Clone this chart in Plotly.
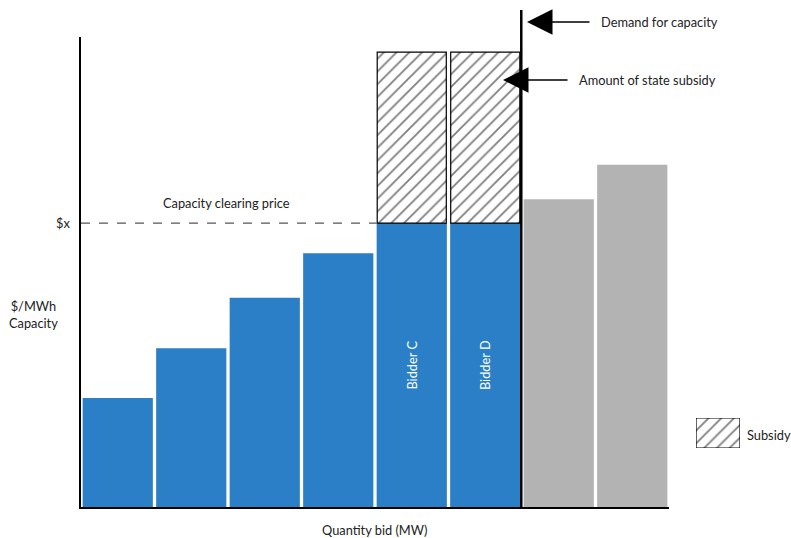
import plotly.graph_objects as go

# ---- data ----
bar_index = [0, 1, 2, 3, 4, 5]
blue_values = [23.2, 33.8, 44.5, 54.0, 60.4, 60.4]
blue_labels = ["", "", "", "", "Bidder C", "Bidder D"]
grey_index = [6, 7]
grey_values = [65.5, 72.8]
subsidy_index = [4, 5]
subsidy_base = [60.4, 60.4]
subsidy_values = [36.4, 36.4]
clearing_price = 60.4

W, H = 791, 538
FONT = "Lato"
FS = 12.8

def px(x):
    return x / W

def py(y):
    return (H - y) / H

fig = go.Figure()

fig.add_trace(go.Bar(
    x=bar_index, y=blue_values, width=0.955,
    marker=dict(color="#2a7fc6", line=dict(width=0)),
    text=blue_labels, textposition="inside", insidetextanchor="middle",
    textangle=-90, textfont=dict(color="white", size=FS, family=FONT),
    constraintext="none", showlegend=False, hoverinfo="skip"))

fig.add_trace(go.Bar(
    x=grey_index, y=grey_values, width=0.955,
    marker=dict(color="#b3b3b3", line=dict(width=0)),
    showlegend=False, hoverinfo="skip"))

hatch = dict(shape="/", fgcolor="black", bgcolor="white", size=9, solidity=0.2)

fig.add_trace(go.Bar(
    x=subsidy_index, y=subsidy_values, base=subsidy_base, width=0.94,
    marker=dict(color="white", line=dict(color="black", width=1.2),
                pattern=hatch),
    showlegend=False, hoverinfo="skip"))

# legend swatch on its own small axes
fig.add_trace(go.Bar(
    x=[0], y=[1], width=1, xaxis="x2", yaxis="y2",
    marker=dict(color="white", line=dict(color="black", width=1.2),
                pattern=hatch),
    showlegend=False, hoverinfo="skip"))

fig.update_layout(
    width=W, height=H,
    margin=dict(l=0, r=0, t=0, b=0),
    paper_bgcolor="white", plot_bgcolor="white",
    barmode="overlay",
    font=dict(family=FONT, size=FS, color="#222"),
    xaxis=dict(domain=[px(81), px(669)], range=[-0.5, 7.5],
               showline=True, linecolor="black", linewidth=2,
               showticklabels=False, ticks="", showgrid=False, zeroline=False),
    yaxis=dict(domain=[py(507), py(37)], range=[0, 100],
               showline=True, linecolor="black", linewidth=2,
               showticklabels=False, ticks="", showgrid=False, zeroline=False),
    xaxis2=dict(domain=[px(696), px(740)], range=[-0.5, 0.5], anchor="y2",
                visible=False),
    yaxis2=dict(domain=[py(448), py(418)], range=[0, 1], anchor="x2",
                visible=False),
)

# clearing price dashed line
fig.add_shape(type="line", xref="x", yref="y", x0=-0.5, x1=3.52,
              y0=clearing_price, y1=clearing_price,
              line=dict(color="#555", width=1.3, dash="dash"))

# demand line
fig.add_shape(type="line", xref="x", yref="paper", x0=5.49, x1=5.49,
              y0=py(508), y1=py(10), line=dict(color="black", width=2.5))

ann = []
# arrows
ann.append(dict(x=px(527), y=py(22), xref="paper", yref="paper", text="",
                showarrow=True, ax=64, ay=0, arrowhead=2, arrowsize=3.4,
                arrowwidth=1.5, arrowcolor="black"))
ann.append(dict(x=px(503), y=py(80), xref="paper", yref="paper", text="",
                showarrow=True, ax=66, ay=0, arrowhead=2, arrowsize=3.4,
                arrowwidth=1.5, arrowcolor="black"))
texts = [
    ("Demand for capacity", 599, 22, "left"),
    ("Amount of state subsidy", 577, 80, "left"),
    ("Capacity clearing price", 226, 203, "center"),
    ("$x", 72, 223, "right"),
    ("Quantity bid (MW)", 374, 530, "center"),
    ("Subsidy", 745, 435, "left"),
]
for t, x, y, anc in texts:
    ann.append(dict(x=px(x), y=py(y), xref="paper", yref="paper", text=t,
                    showarrow=False, xanchor=anc, yanchor="middle",
                    font=dict(family=FONT, size=FS, color="#222")))
ann.append(dict(x=px(33), y=py(315), xref="paper", yref="paper",
                text="$/MWh<br>Capacity", showarrow=False, xanchor="center",
                yanchor="middle", align="center",
                font=dict(family=FONT, size=FS, color="#222")))
fig.update_layout(annotations=ann)

fig.write_html("out.html", config={"displayModeBar": False},
               post_script="document.body.style.margin='0';"
                           "document.body.style.overflow='hidden';")
